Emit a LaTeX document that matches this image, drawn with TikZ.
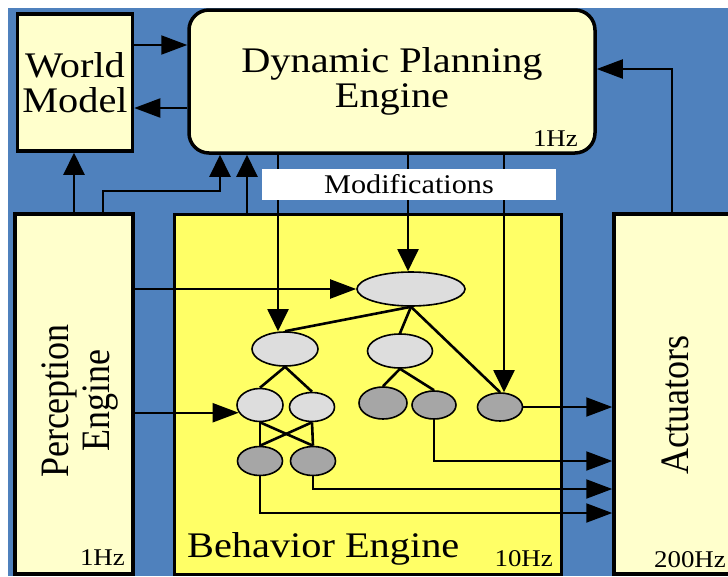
\documentclass[tikz,border=0pt]{standalone}
\usepackage{fontspec}
\setmainfont{Liberation Serif}
\newfontfamily\widefont{Liberation Serif}[FakeStretch=1.12]
\usetikzlibrary{arrows.meta,shapes.geometric}

\definecolor{bgblue}{RGB}{79,129,189}
\definecolor{paleyellow}{RGB}{255,255,204}
\definecolor{brightyellow}{RGB}{255,255,102}
\definecolor{lightnode}{RGB}{221,221,221}
\definecolor{darknode}{RGB}{166,166,166}

\tikzset{
  box/.style={draw=black, line width=3.5pt, fill=paleyellow, inner sep=0pt},
  bigtext/.style={font=\widefont\fontsize{36}{35}\selectfont, align=center},
  vtext/.style={font=\fontsize{36}{36}\selectfont, rotate=90, inner sep=0pt},
  hz/.style={font=\widefont\fontsize{24}{24}\selectfont, inner sep=0pt},
  wire/.style={draw=black, line width=2pt},
  harrow/.style={wire, -{Triangle[length=26pt,width=19pt]}},
  varrow/.style={wire, -{Triangle[length=22pt,width=21pt]}},
  task/.style={ellipse, draw=black, line width=1.6pt, inner sep=0pt},
  light/.style={task, fill=lightnode},
  dark/.style={task, fill=darknode},
  tree/.style={draw=black, line width=2.6pt},
}
% widen sideways text across its lines, as the upright text is widened along them
\newcommand{\tallstack}[1]{\scalebox{1}[1.12]{\begin{tabular}{@{}c@{}}#1\end{tabular}}}

\begin{document}
\begin{tikzpicture}[x=1pt,y=-1pt]
\useasboundingbox (0,0) rectangle (728,576);
\fill[white] (0,0) rectangle (728,576);
\fill[bgblue] (8,8) rectangle (728,576);

% engines and boxes
\node[box, bigtext, minimum width=115pt, minimum height=137pt] (world) at (75,82.5) {World\\Model};
\node[box, bigtext, rounded corners=20pt, minimum width=406pt, minimum height=143pt] (dpe) at (392,81.5) {Dynamic Planning\\Engine};
\node[box, minimum width=118pt, minimum height=360pt] (perc) at (74,394) {};
\node[box, fill=brightyellow, line width=3pt, minimum width=387pt, minimum height=359.5pt] (beh) at (368,394.25) {};
\node[box, minimum width=116pt, minimum height=360pt] (act) at (672,394) {};

% box labels
\node[vtext] (perctext) at (81,401) {\tallstack{Perception\\Engine}};
\node[vtext] (acttext) at (680,405) {\tallstack{Actuators}};
\node[hz, anchor=base east] (dpehz) at (578,146) {1Hz};
\node[hz, anchor=base east] (perchz) at (125,565) {1Hz};
\node[hz, anchor=base east] (behhz) at (553,566) {10Hz};
\node[hz, anchor=base east] (acthz) at (726,567) {200Hz};
\node[font=\widefont\fontsize{36}{35}\selectfont, anchor=base west, inner sep=0pt] (behtext) at (187,557) {Behavior Engine};

% behavior tree
\node[light, minimum width=108pt, minimum height=34pt] (top) at (411,289) {};
\node[light, minimum width=66pt, minimum height=34pt] (midL) at (285,349) {};
\node[light, minimum width=65pt, minimum height=34pt] (midR) at (400,351) {};
\node[light, minimum width=46pt, minimum height=33pt] (l1) at (260,405) {};
\node[light, minimum width=45pt, minimum height=29pt] (l2) at (312,407) {};
\node[dark, minimum width=48pt, minimum height=32pt] (d1) at (383,403) {};
\node[dark, minimum width=44pt, minimum height=28pt] (d2) at (434,405) {};
\node[dark, minimum width=45pt, minimum height=28pt] (d3) at (500,407) {};
\node[dark, minimum width=45pt, minimum height=29pt] (da) at (260,461) {};
\node[dark, minimum width=45pt, minimum height=29pt] (db) at (313,461) {};

\draw[tree] (top.south) -- (midL.north);
\draw[tree] (top.south) -- (midR.north);
\draw[tree] (top.south) -- (d3.north);
\draw[tree] (midL.south) -- (l1.north);
\draw[tree] (midL.south) -- (l2.north);
\draw[tree] (midR.south) -- (d1.north);
\draw[tree] (midR.south) -- (d2.north);
\draw[tree] (l1.south) -- (da.north);
\draw[tree] (l1.south) -- (db.north);
\draw[tree] (l2.south) -- (da.north);
\draw[tree] (l2.south) -- (db.north);

% reference rows and columns for the connectors
\coordinate (r1) at (0,45);
\coordinate (r2) at (0,108);
\coordinate (r3) at (0,69);
\coordinate (bend) at (0,191);
\coordinate (r4) at (0,461);
\coordinate (r5) at (0,489);
\coordinate (r6) at (0,513);
\coordinate (pu) at (103,0);
\coordinate (pm) at (220,0);
\coordinate (bu) at (247,0);
\coordinate (m1) at (278,0);
\coordinate (m2) at (408,0);
\coordinate (m3) at (504,0);
\coordinate (au) at (672,0);

% world model <-> planner
\draw[harrow] (world.east |- r1) -- (dpe.west |- r1);
\draw[harrow] (dpe.west |- r2) -- (world.east |- r2);

% feedback up to planner and world model
\draw[varrow] (perc.north) -- (perc.north |- world.south);
\draw[varrow] (pu |- perc.north) |- (pm |- bend) -- (pm |- dpe.south);
\draw[varrow] (bu |- beh.north) -- (bu |- dpe.south);
\draw[harrow] (au |- act.north) |- (dpe.east |- r3);

% modifications down into the tree
\draw[varrow] (m1 |- dpe.south) -- (m1 |- midL.north);
\draw[varrow] (m2 |- dpe.south) -- (m2 |- top.north);
\draw[varrow] (m3 |- dpe.south) -- (m3 |- d3.north);

% perception into the tree
\draw[harrow] (perc.east |- top.west) -- (top.west);
\draw[harrow] (perc.east |- l1.200) -- (l1.200);

% tree outputs to actuators
\draw[harrow] (d3.east) -- (act.west |- d3.east);
\draw[harrow] (d2.south) |- (act.west |- r4);
\draw[harrow] (db.south) |- (act.west |- r5);
\draw[harrow] (da.south) |- (act.west |- r6);

% label over the modification lines
\node[fill=white, minimum width=294pt, minimum height=31pt, inner sep=0pt,
      font=\widefont\fontsize{27}{27}\selectfont] (mods) at (409,184.5) {Modifications};
\end{tikzpicture}
\end{document}
